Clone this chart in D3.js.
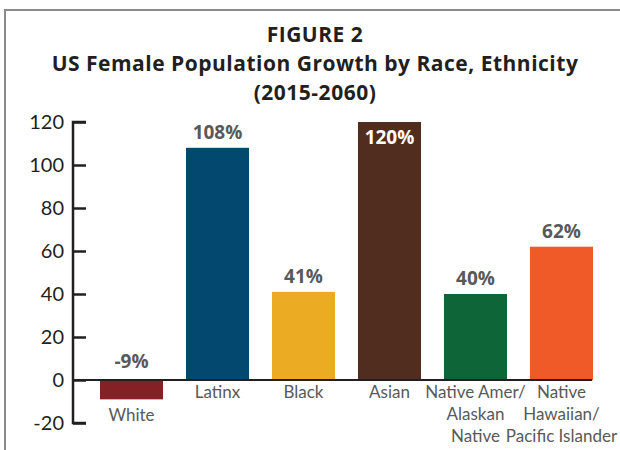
<!DOCTYPE html>
<html>
<head>
<meta charset="utf-8">
<script src="https://d3js.org/d3.v7.min.js"></script>
<style>
  body { margin: 0; background: #fff; }
  text { font-family: Lato, "Open Sans", sans-serif; }
</style>
</head>
<body>
<svg width="620" height="450"></svg>
<script>
  // data
  const categories = ['White', 'Latinx', 'Black', 'Asian', 'Native Amer/ Alaskan Native', 'Native Hawaiian/ Pacific Islander'];
  const labelLines = [['White'], ['Latinx'], ['Black'], ['Asian'], ['Native Amer/', 'Alaskan', 'Native'], ['Native', 'Hawaiian/', 'Pacific Islander']];
  const growth = [-9, 108, 41, 120, 40, 62];
  const colors = ['#832127', '#03496f', '#ebac23', '#512d1f', '#0e6638', '#f05a28'];
  const yTicks = [-20, 0, 20, 40, 60, 80, 100, 120];
  const titleLines = ['FIGURE 2', 'US Female Population Growth by Race, Ethnicity', '(2015-2060)'];

  const svg = d3.select('svg');

  // frame
  svg.append('rect')
    .attr('x', 5)
    .attr('y', 10)
    .attr('width', 640)
    .attr('height', 460)
    .attr('fill', 'none')
    .attr('stroke', '#8a8a8a')
    .attr('stroke-width', 2);

  // title
  svg.selectAll('.title')
    .data(titleLines)
    .join('text')
    .attr('class', 'title')
    .attr('x', 315)
    .attr('y', (d, i) => [42, 71, 100][i])
    .attr('text-anchor', 'middle')
    .attr('font-size', 21)
    .attr('font-weight', 'bold')
    .attr('letter-spacing', 0.5)
    .attr('fill', '#231f20')
    .style('font-family', '"Open Sans", sans-serif')
    .text(d => d);

  const x = d3.scaleBand()
    .domain(categories)
    .range([100, 593])
    .paddingInner(0.267)
    .paddingOuter(0);

  const y = d3.scaleLinear()
    .domain([-20, 120])
    .range([423, 122]);

  // y axis
  const yAxis = svg.append('g')
    .attr('transform', 'translate(73,0)')
    .call(d3.axisRight(y).tickValues(yTicks).tickSize(13).tickFormat(''));
  yAxis.select('.domain')
    .attr('d', 'M13,' + y(120) + 'H0V' + y(-20) + 'H13')
    .attr('stroke', '#231f20')
    .attr('stroke-width', 2.5);
  yAxis.selectAll('.tick line')
    .attr('stroke', '#231f20')
    .attr('stroke-width', 2.5);

  svg.selectAll('.ytick')
    .data(yTicks)
    .join('text')
    .attr('class', 'ytick')
    .attr('x', 64)
    .attr('y', d => y(d) + 7)
    .attr('text-anchor', 'end')
    .attr('font-size', 20)
    .attr('fill', '#231f20')
    .text(d => d);

  // bars
  svg.selectAll('.bar')
    .data(growth)
    .join('rect')
    .attr('class', 'bar')
    .attr('x', (d, i) => x(categories[i]))
    .attr('y', d => y(Math.max(0, d)))
    .attr('width', x.bandwidth())
    .attr('height', d => Math.abs(y(d) - y(0)))
    .attr('fill', (d, i) => colors[i]);

  // zero line
  svg.append('line')
    .attr('x1', 73)
    .attr('x2', 592)
    .attr('y1', y(0))
    .attr('y2', y(0))
    .attr('stroke', '#231f20')
    .attr('stroke-width', 2);

  // value labels
  svg.selectAll('.val')
    .data(growth)
    .join('text')
    .attr('class', 'val')
    .attr('x', (d, i) => x(categories[i]) + x.bandwidth() / 2)
    .attr('y', (d, i) => d < 0 ? y(0) - 12 : (i === 3 ? y(d) + 22 : y(d) - 9))
    .attr('text-anchor', 'middle')
    .attr('font-size', 19)
    .attr('font-weight', 'bold')
    .attr('fill', (d, i) => i === 3 ? '#fff' : '#58595b')
    .style('font-family', '"Open Sans", sans-serif')
    .text(d => d + '%');

  // category labels
  svg.selectAll('.cat')
    .data(labelLines)
    .join('text')
    .attr('class', 'cat')
    .attr('x', (d, i) => x(categories[i]) + x.bandwidth() / 2)
    .attr('y', (d, i) => growth[i] < 0 ? y(growth[i]) + 22 : y(0) + 18)
    .attr('text-anchor', 'middle')
    .attr('font-size', 17)
    .attr('fill', '#58595b')
    .each(function(lines) {
      const t = d3.select(this);
      const x0 = t.attr('x');
      lines.forEach((line, j) => {
        t.append('tspan')
          .attr('x', x0)
          .attr('dy', j === 0 ? 0 : 22)
          .text(line);
      });
    });
</script>
</body>
</html>
